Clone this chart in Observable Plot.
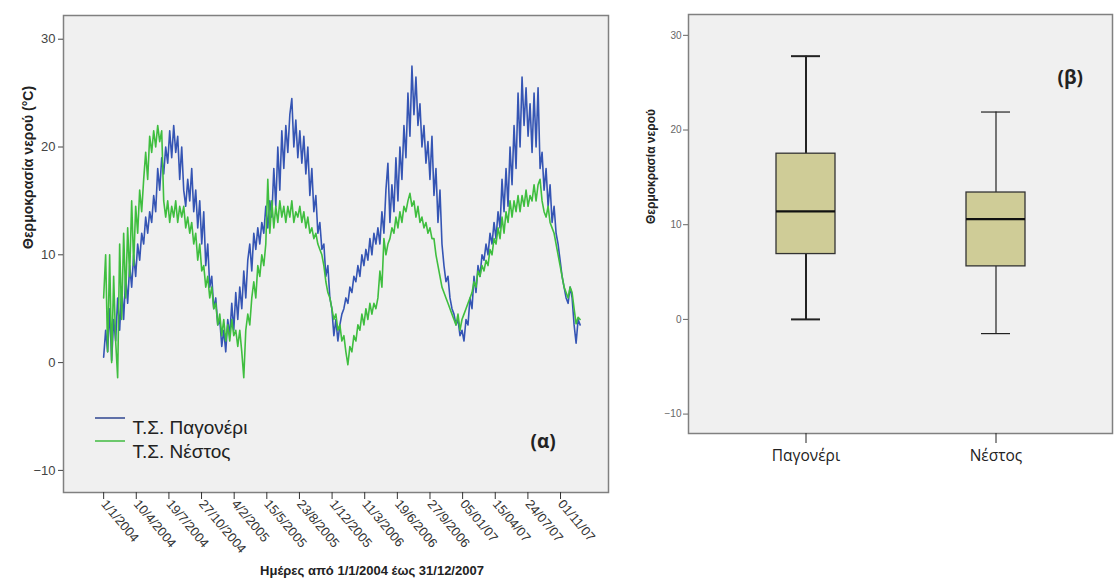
<!DOCTYPE html>
<html>
<head>
<meta charset="utf-8">
<script src="https://cdn.jsdelivr.net/npm/d3@7"></script>
<script src="https://cdn.jsdelivr.net/npm/@observablehq/plot@0.6"></script>
<style>
  html, body { margin: 0; padding: 0; background: #fff; }
  #wrap { position: relative; width: 1115px; height: 584px; overflow: hidden; background: #fff; }
  #left { position: absolute; left: 0; top: 0; }
  #right { position: absolute; left: 612px; top: 0; }
  .sw { position: absolute; width: 30px; height: 2px; }
</style>
</head>
<body>
<div id="wrap">
  <div id="left"></div>
  <div id="right"></div>
  <div class="sw" style="left:95px; top:417px; background:#5f70a8;"></div>
  <div class="sw" style="left:95px; top:440px; background:#6cc86c;"></div>
</div>
<script>
// ---------- DATA ----------
// Daily water temperature readings (°C), one reading every ~6 days
// from 1/1/2004 to 31/12/2007.
const seriesStart = "2004-01-01";
const seriesEnd = "2007-12-31";
const pagoneri = [
  0.5,3,1,5,0.2,4,2,6,3,7,
  4,8,5.5,9,7,10,8,11,9.5,12,
  11,13.5,12,14,13,15.5,14,18,16,19,
  17.5,20,18.5,21.5,19,22,19.5,21,17,20,
  16,14.5,17,15,18,14,16,12.5,15,11,
  14,9,11,7,8,5,6,3.5,4,1.5,
  3,1,4,2.5,5.5,3,6.5,4,7,5,
  8.5,6,9.5,11,8.5,12,10.5,12.5,11,13,
  12,14.5,12.5,15,13.5,18,14.5,20,16,21.5,
  18,22,19.5,23,24.5,20,22.5,19,21.5,18.5,
  21,17.5,20,15.5,18,14,15.5,12,13,10.5,
  11,8,9,6,5,2.5,4,2,3.5,4.5,
  5,6,5.5,7,6.5,8,7.5,9,8,10,
  9,10.5,9.5,11.5,10,12,11,12.5,11,14,
  12,16,18.5,13,16.5,14,19,15,20,17,
  22,19,25,21,27.5,23,26.5,22,24,20,
  22,18.5,20.5,17,21,15.5,18,13,16,11,
  9,7.5,8,6,5,4.5,3.5,4,2.5,3,
  2,4,3.5,6,5,8,6.5,9,8,10,
  9.5,11,10,12,11,13,11.5,14,12.5,17,
  14,18,14.5,20,16.5,22,18,25,20,26.5,
  22,25.5,21,24,19.5,25,20,25.5,18,19.5,
  16,18,14.5,16.5,13,14.5,12,11,9.5,8,
  7,6,5.5,7,6,3.5,1.8,4,3.5
];
const nestos = [
  6,10,1,10,0,8,2,-1.4,11,4,
  12,6,12.5,8,15,9,14.5,12,16,14,
  17,19.5,17,21,19.5,21.5,20,22,20.5,21.5,
  15,13.5,15,13,14.5,13.5,15,13,14.5,13.5,
  14.5,12.5,13.5,12,13,11,12,9.5,11,8.5,
  9,7,8,6,7,5,5.5,3.5,4.5,2.5,
  4,2,3.5,2,4,2.5,3,1.5,3,1,
  -1.4,3,4.5,3.5,6,7.5,6,9,8,10,
  9,11,17,12,15,12.5,14.5,13,15,13.5,
  14.5,13,14.5,13.5,15,13,14,13.5,14.5,13,
  14,12.5,13.5,12,12.5,11.5,12,11,10.5,10,
  9,7.5,6.5,6,5,4,4.5,3,3.5,2,
  2.5,1,-0.2,1.5,1,2.5,2,3.5,3,4.5,
  3.5,5,4,5.5,4.5,5.5,5,6,8.5,7,
  11.5,10,11,11.5,12.5,12,13.5,12.5,14,13,
  14.5,14,15,15.7,14.5,15,13.5,14.5,13,13.5,
  12.5,13,12,12.5,11.5,11.5,10,9,8,7,
  6.5,6,5.5,5,4.5,4,3.5,4.5,3,4,
  4.5,5,5.5,6,6.5,7.5,7,8.5,8,9,
  8.5,9.5,9,10.5,10,11.5,11,12.5,11.5,13.5,
  12,14,13,15,13.5,15,14,15.5,14,15.5,
  14.5,16,14.5,15.5,15,16.5,15,16.5,17,15,
  14,13.5,14.5,13,12.5,12,11,10,9,8,
  7,6.5,6,7,6.5,5,3.6,4.2,4
];
const xTickDates = ["2004-01-01","2004-04-10","2004-07-19","2004-10-27","2005-02-04","2005-05-15","2005-08-23","2005-12-01","2006-03-11","2006-06-19","2006-09-27","2007-01-05","2007-04-15","2007-07-24","2007-11-01"];
const xTickLabels = ["1/1/2004","10/4/2004","19/7/2004","27/10/2004","4/2/2005","15/5/2005","23/8/2005","1/12/2005","11/3/2006","19/6/2006","27/9/2006","05/01/07","15/04/07","24/07/07","01/11/07"];
const xDomain = ["2003-08-31","2008-03-27"];
const yTicks = [-10, 0, 10, 20, 30];
const yDomain = [-12.05, 32.2];
const seriesNames = ["Τ.Σ. Παγονέρι", "Τ.Σ. Νέστος"];

// Box plot summary (β)
const boxCategories = ["Παγονέρι", "Νέστος"];
const boxMin = [0.0, -1.5];
const boxQ1 = [6.9, 5.6];
const boxMedian = [11.4, 10.6];
const boxQ3 = [17.5, 13.4];
const boxMax = [27.8, 21.9];

// ---------- BUILD ----------
const t0 = Date.parse(seriesStart + "T00:00:00Z");
const t1 = Date.parse(seriesEnd + "T00:00:00Z");
const step = (t1 - t0) / (pagoneri.length - 1);
const pagData = pagoneri.map((t, i) => ({date: new Date(t0 + i * step), t}));
const nesData = nestos.map((t, i) => ({date: new Date(t0 + i * step), t}));
const tickDates = xTickDates.map(s => new Date(s + "T00:00:00Z"));
const tickLabelMap = new Map(tickDates.map((d, i) => [+d, xTickLabels[i]]));

const axisFont = "'Liberation Sans', Arial, sans-serif";
const softFont = "'Open Sans', 'Noto Sans', sans-serif";

const left = Plot.plot({
  width: 612, height: 584,
  marginLeft: 63, marginRight: 4, marginTop: 15, marginBottom: 92,
  style: {background: "transparent", fontFamily: axisFont, color: "#333", overflow: "visible"},
  x: {type: "utc", domain: xDomain.map(s => new Date(s + "T00:00:00Z"))},
  y: {domain: yDomain},
  marks: [
    Plot.frame({fill: "#f0f0f0", stroke: "none"}),
    Plot.line(pagData, {x: "date", y: "t", stroke: "#3555b4", strokeWidth: 1.6}),
    Plot.line(nesData, {x: "date", y: "t", stroke: "#3fbe3f", strokeWidth: 1.6}),
    Plot.frame({stroke: "#808080", strokeWidth: 1.5}),
    Plot.axisY({ticks: yTicks, tickSize: 5, tickPadding: 3, fontSize: 13, color: "#444", label: null}),
    Plot.axisX({ticks: tickDates, tickFormat: d => tickLabelMap.get(+d), tickRotate: 50, tickSize: 7, tickPadding: 2, fontSize: 13, color: "#333", label: null}),
    Plot.text(["Θερμοκρασία νερού (°C)"], {text: d => d, frameAnchor: "left", dx: -35, dy: -5, rotate: -90, fontWeight: "bold", fontSize: 14, fill: "#222"}),
    Plot.text(["Ημέρες από 1/1/2004 έως 31/12/2007"], {text: d => d, frameAnchor: "bottom", dx: 36, dy: 82, fontWeight: "bold", fontSize: 13, fill: "#222"}),
    Plot.text([seriesNames[0]], {text: d => d, frameAnchor: "top-left", dx: 69, dy: 405, textAnchor: "start", fontSize: 19, fill: "#222"}),
    Plot.text([seriesNames[1]], {text: d => d, frameAnchor: "top-left", dx: 69, dy: 429, textAnchor: "start", fontSize: 19, fill: "#222"}),
    Plot.text(["(α)"], {text: d => d, frameAnchor: "top-left", dx: 467, dy: 419, fontSize: 19, fontWeight: "bold", fontFamily: softFont, fill: "#222"})
  ]
});
document.getElementById("left").appendChild(left);

const boxData = boxCategories.map((name, i) => ({name, min: boxMin[i], q1: boxQ1[i], med: boxMedian[i], q3: boxQ3[i], max: boxMax[i]}));
const wW = d => d.name === boxCategories[0] ? 2 : 1.2;

const right = Plot.plot({
  width: 503, height: 470,
  marginLeft: 76, marginRight: 3, marginTop: 14, marginBottom: 37,
  style: {background: "transparent", fontFamily: axisFont, color: "#333", overflow: "visible"},
  x: {type: "band", domain: boxCategories, paddingInner: 0.69, paddingOuter: 0.455},
  y: {domain: yDomain},
  marks: [
    Plot.frame({fill: "#f0f0f0", stroke: "none"}),
    Plot.ruleX(boxData, {x: "name", y1: "min", y2: "q1", stroke: "#222", strokeWidth: wW}),
    Plot.ruleX(boxData, {x: "name", y1: "q3", y2: "max", stroke: "#222", strokeWidth: wW}),
    Plot.tickY(boxData, {x: "name", y: "min", stroke: "#222", strokeWidth: wW, insetLeft: 15, insetRight: 15}),
    Plot.tickY(boxData, {x: "name", y: "max", stroke: "#222", strokeWidth: wW, insetLeft: 15, insetRight: 15}),
    Plot.barY(boxData, {x: "name", y1: "q1", y2: "q3", fill: "#cfcc97", stroke: "#333", strokeWidth: 1.3}),
    Plot.tickY(boxData, {x: "name", y: "med", stroke: "#111", strokeWidth: 2.2}),
    Plot.frame({stroke: "#808080", strokeWidth: 1.5}),
    Plot.axisY({ticks: yTicks, tickSize: 5, tickPadding: 2, fontSize: 10, color: "#666", label: null}),
    Plot.axisX({tickSize: 10, tickPadding: 6, fontSize: 15.5, fontFamily: softFont, color: "#222", label: null}),
    Plot.text(["Θερμοκρασία νερού"], {text: d => d, frameAnchor: "left", dx: -37, rotate: -90, fontWeight: "bold", fontSize: 12, fill: "#222"}),
    Plot.text(["(β)"], {text: d => d, frameAnchor: "top-left", dx: 369, dy: 56, fontSize: 19, fontWeight: "bold", fontFamily: softFont, fill: "#222"})
  ]
});
document.getElementById("right").appendChild(right);
</script>
</body>
</html>
